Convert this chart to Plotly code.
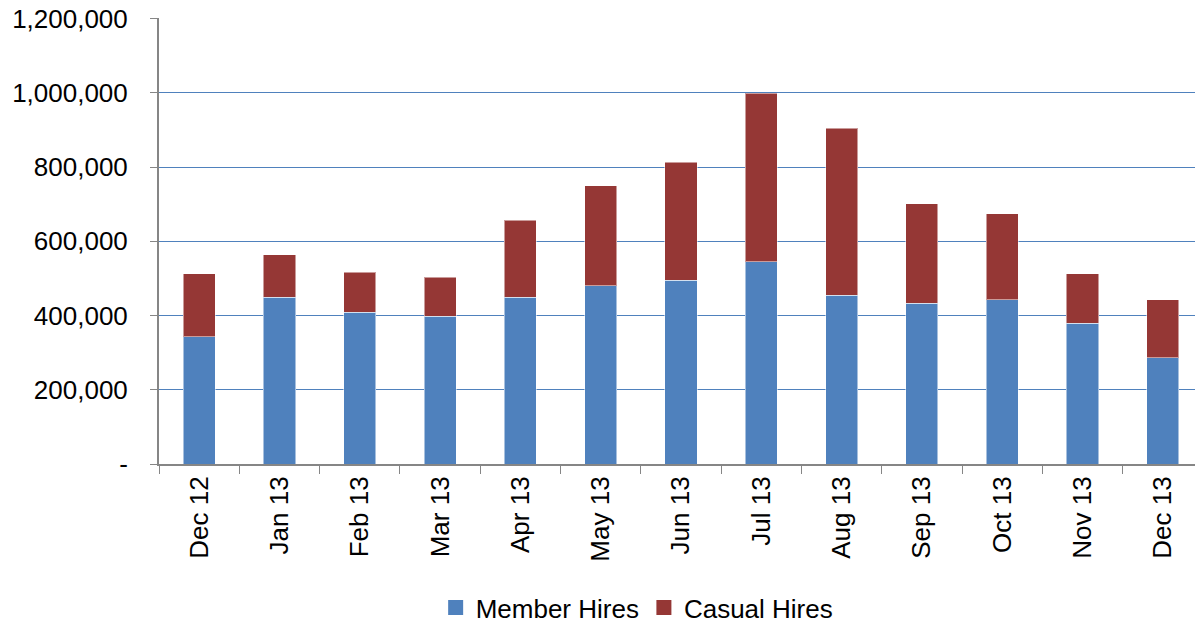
import plotly.graph_objects as go

months = ["Dec 12", "Jan 13", "Feb 13", "Mar 13", "Apr 13", "May 13", "Jun 13",
          "Jul 13", "Aug 13", "Sep 13", "Oct 13", "Nov 13", "Dec 13"]
member_hires = [343000, 449000, 409000, 398000, 449000, 480000, 495000,
                545000, 454000, 433000, 443000, 379000, 286000]
casual_hires = [169000, 115000, 107000, 105000, 208000, 269000, 318000,
                454000, 450000, 268000, 231000, 134000, 157000]
y_ticks = [0, 200000, 400000, 600000, 800000, 1000000, 1200000]
y_labels = ["-", "200,000", "400,000", "600,000", "800,000", "1,000,000", "1,200,000"]

font = "Liberation Sans, Arial, sans-serif"
FS = 26
blue = "#4F81BD"
red = "#953735"

fig = go.Figure()
fig.add_trace(go.Bar(x=months, y=member_hires, name="Member Hires", showlegend=False,
                     marker=dict(color=blue, line=dict(color="rgba(255,255,255,0.5)", width=1))))
fig.add_trace(go.Bar(x=months, y=casual_hires, name="Casual Hires", showlegend=False,
                     marker=dict(color=red, line=dict(color="rgba(255,255,255,0.5)", width=1))))
# legend entries with larger square symbols
fig.add_trace(go.Scatter(x=[None], y=[None], mode="markers", name="Member Hires",
                         marker=dict(symbol="square", size=15, color=blue)))
fig.add_trace(go.Scatter(x=[None], y=[None], mode="markers", name="Casual Hires",
                         marker=dict(symbol="square", size=15, color=red)))

fig.update_layout(
    barmode="stack",
    bargap=0.6,
    width=1203, height=622,
    margin=dict(l=151, r=8, t=10, b=166, autoexpand=False),
    paper_bgcolor="white", plot_bgcolor="white",
    font=dict(family=font, size=FS, color="black"),
    showlegend=True,
    legend=dict(orientation="h", x=0.458, xanchor="center", y=-0.322, yanchor="middle",
                font=dict(size=FS), traceorder="normal", itemwidth=30),
)
fig.update_yaxes(range=[0, 1201500], tickvals=y_ticks, ticktext=y_labels,
                 showgrid=True, gridcolor=blue, gridwidth=1.3,
                 showline=True, linecolor="#868686", linewidth=2,
                 ticks="outside", ticklen=7, tickcolor="#868686",
                 zeroline=False, tickfont=dict(size=FS), automargin=False,
                 ticklabelstandoff=17, ticklabeloverflow="allow")
fig.update_xaxes(tickangle=-90, showline=True, linecolor="#868686", linewidth=2,
                 ticks="outside", ticklen=8, tickcolor="#868686", tickson="boundaries",
                 tickfont=dict(size=FS), automargin=False, ticklabeloverflow="allow")

fig.write_html("out.html")
